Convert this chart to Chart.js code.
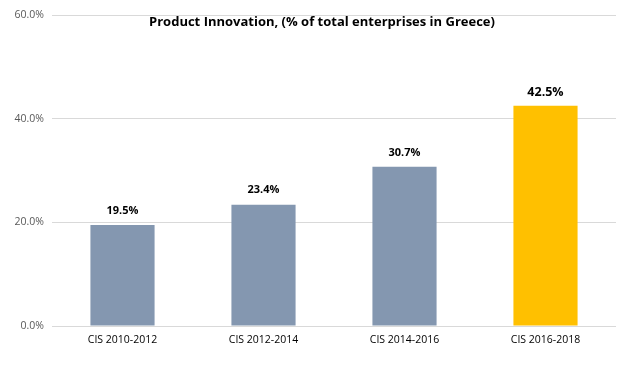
<!DOCTYPE html>
<html><head><meta charset="utf-8">
<script src="https://cdn.jsdelivr.net/npm/chart.js@4/dist/chart.umd.min.js"></script>
<style>html,body{margin:0;padding:0;background:#fff;}#wrap{width:643px;height:378px;position:relative;}</style>
</head><body><div id="wrap"><canvas id="c" width="643" height="378"></canvas></div>
<script>
const categories = ["CIS 2010-2012", "CIS 2012-2014", "CIS 2014-2016", "CIS 2016-2018"];
const values = [19.5, 23.4, 30.7, 42.5];
const barColors = ["#8497B0", "#8497B0", "#8497B0", "#FFC000"];
const titleText = "Product Innovation, (% of total enterprises in Greece)";

const labelPlugin = {
  id: 'labels',
  afterDatasetsDraw(chart) {
    const ctx = chart.ctx;
    const meta = chart.getDatasetMeta(0);
    ctx.save();
    ctx.fillStyle = '#000';
    ctx.textAlign = 'center';
    ctx.textBaseline = 'bottom';
    meta.data.forEach((bar, i) => {
      const last = i === values.length - 1;
      ctx.font = 'bold ' + (last ? 12.5 : 11) + 'px "Open Sans", sans-serif';
      ctx.fillText(values[i].toFixed(1) + '%', bar.x, bar.y - (last ? 7 : 9));
    });
    ctx.font = 'bold 13px "Open Sans", sans-serif';
    ctx.textBaseline = 'middle';
    ctx.fillText(titleText, 322, 22);
    ctx.restore();
  }
};

new Chart(document.getElementById('c'), {
  type: 'bar',
  data: {
    labels: categories,
    datasets: [{ data: values, backgroundColor: barColors, categoryPercentage: 1, barPercentage: 0.455 }]
  },
  options: {
    responsive: false,
    animation: false,
    layout: { padding: { top: 15, right: 27, bottom: 0, left: 0 } },
    plugins: { legend: { display: false }, tooltip: { enabled: false } },
    scales: {
      y: {
        min: 0, max: 60,
        ticks: { stepSize: 20, color: '#595959', font: { size: 10.5, family: '"Open Sans", sans-serif' }, padding: 8,
          callback: v => v.toFixed(1) + '%' },
        grid: { color: '#d9d9d9', drawTicks: false },
        border: { display: false },
        afterFit(s) { s.width = 52; }
      },
      x: {
        ticks: { color: '#000', font: { size: 10.5, family: '"Open Sans", sans-serif' }, padding: 8 },
        grid: { display: false, drawTicks: false },
        border: { display: false },
        afterFit(s) { s.height = 52; }
      }
    }
  },
  plugins: [labelPlugin]
});
</script></body></html>
